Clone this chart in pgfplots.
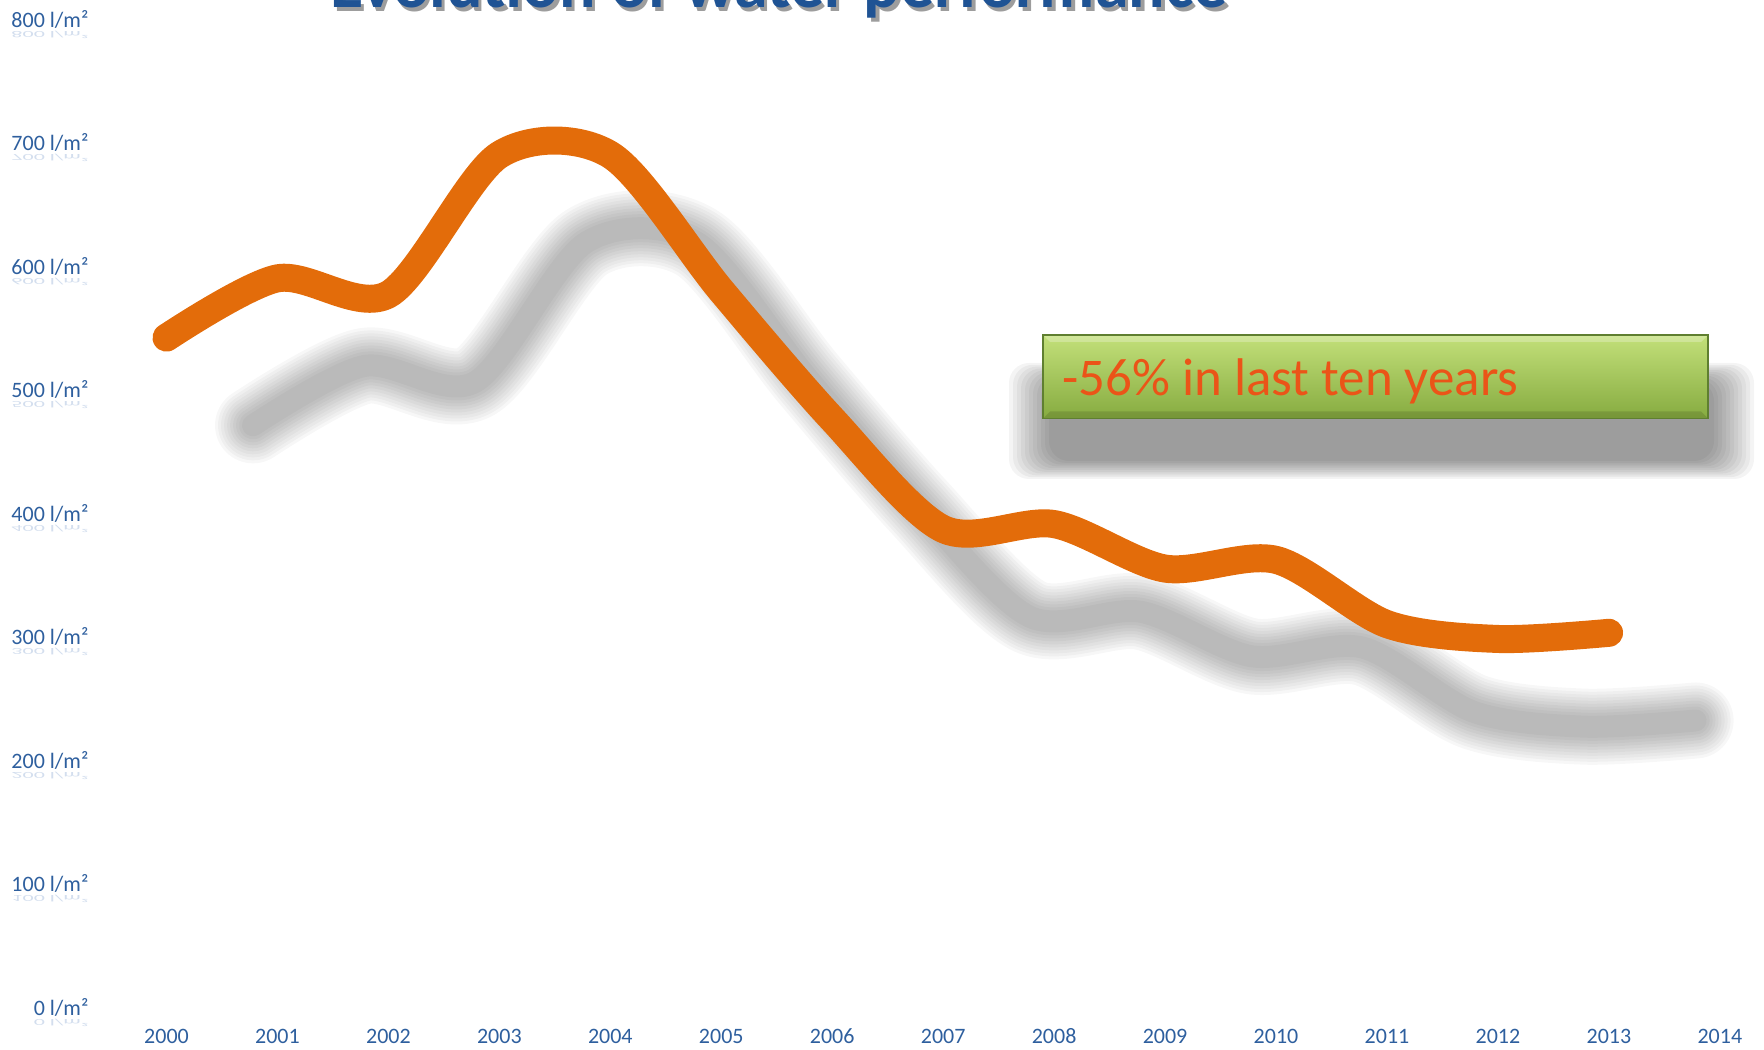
\documentclass[border=0pt]{standalone}
\usepackage{fontspec}
\setmainfont{Carlito}
\usepackage{graphicx}
\usepackage{pgfplots}
\pgfplotsset{compat=1.18}
\usepackage{pgfplotstable}
\definecolor{lineorange}{HTML}{E36C0A}
\definecolor{tickblue}{HTML}{2E5F9E}
\definecolor{reflblue}{HTML}{D3DEEE}
\definecolor{titleblue}{HTML}{1F5394}
\definecolor{boxtxt}{HTML}{EB5418}
\definecolor{boxtop}{HTML}{C3E07A}
\definecolor{boxbot}{HTML}{86AB40}
\definecolor{boxedge}{HTML}{5F7F30}

\pgfplotstableread{
year v
2000 542
2001 590
2002 577
2003 690
2004 690
2005 580
2006 476
2007 387
2008 391
2009 355
2010 362
2011 310
2012 298
2013 303
}\water

\newcommand\refl[1]{\rlap{\smash{\raisebox{-0.2em}{\scalebox{1}[-0.42]{\color{reflblue}#1}}}}#1}

\pgfplotsset{shad/.style={black, opacity=0.032, line width=#1, smooth, no markers, line cap=round, line join=round}}

\begin{document}
\begin{tikzpicture}[x=1pt,y=1pt]
\useasboundingbox (0,0) rectangle (882,524.5);
\begin{axis}[
  at={(83.25pt,21pt)}, anchor=south west,
  scale only axis, width=776.75pt, height=494pt,
  xmin=2000, xmax=2014, ymin=0, ymax=800,
  axis line style={draw=none}, major tick length=0pt,
  xtick={2000,...,2014}, ytick={0,100,...,800},
  /pgf/number format/assume math mode=true,
  /pgf/number format/1000 sep={},
  x tick label style={font=\fontsize{11}{13}\selectfont, text=tickblue, anchor=base, yshift=-18pt},
  yticklabel={\refl{\pgfmathprintnumber{\tick}~l/m²}},
  y tick label style={font=\fontsize{11}{13}\selectfont, text=tickblue, anchor=east, xshift=-35.5pt},
  clip=false,
]
% blurred shadow of the line
\pgfplotsinvokeforeach{38pt,35pt,32pt,29pt,26pt,23pt,20pt,17pt,14pt,11pt}{
\addplot[shad=#1] table[x expr=\thisrow{year}+0.78, y expr=\thisrow{v}-71]{\water};
}
% main line
\addplot[lineorange, line width=14pt, smooth, no markers, line cap=round, line join=round] table[x=year, y=v]{\water};
\end{axis}

% title (cut off at the top, as in the original)
\node[anchor=base, font=\fontsize{34}{40}\selectfont\bfseries, text=black!55, opacity=0.7] at (391.2,518.8) {Evolution of water performance};
\node[anchor=base, font=\fontsize{34}{40}\selectfont\bfseries, text=titleblue] at (389.5,520.5) {Evolution of water performance};

% box shadow
\foreach \s in {20,18,...,0}{
  \fill[black, opacity=0.045, rounded corners=10pt] (524.5-\s,294-0.45*\s) rectangle (857+\s,334+0.45*\s);
}
% box
\shade[top color=boxtop, bottom color=boxbot] (521.5,315.25) rectangle (854,357);
\fill[white, opacity=0.25] (521.5,357) -- (854,357) -- (850.5,353.5) -- (525,353.5) -- cycle;
\fill[black, opacity=0.12] (521.5,315.25) -- (854,315.25) -- (850.5,318.75) -- (525,318.75) -- cycle;
\draw[boxedge, line width=0.8pt] (521.5,315.25) rectangle (854,357);
\node[anchor=base west, font=\fontsize{26.5}{30}\selectfont, text=boxtxt, inner sep=0pt] at (531,326.5) {-56\% in last ten years};
\end{tikzpicture}
\end{document}
